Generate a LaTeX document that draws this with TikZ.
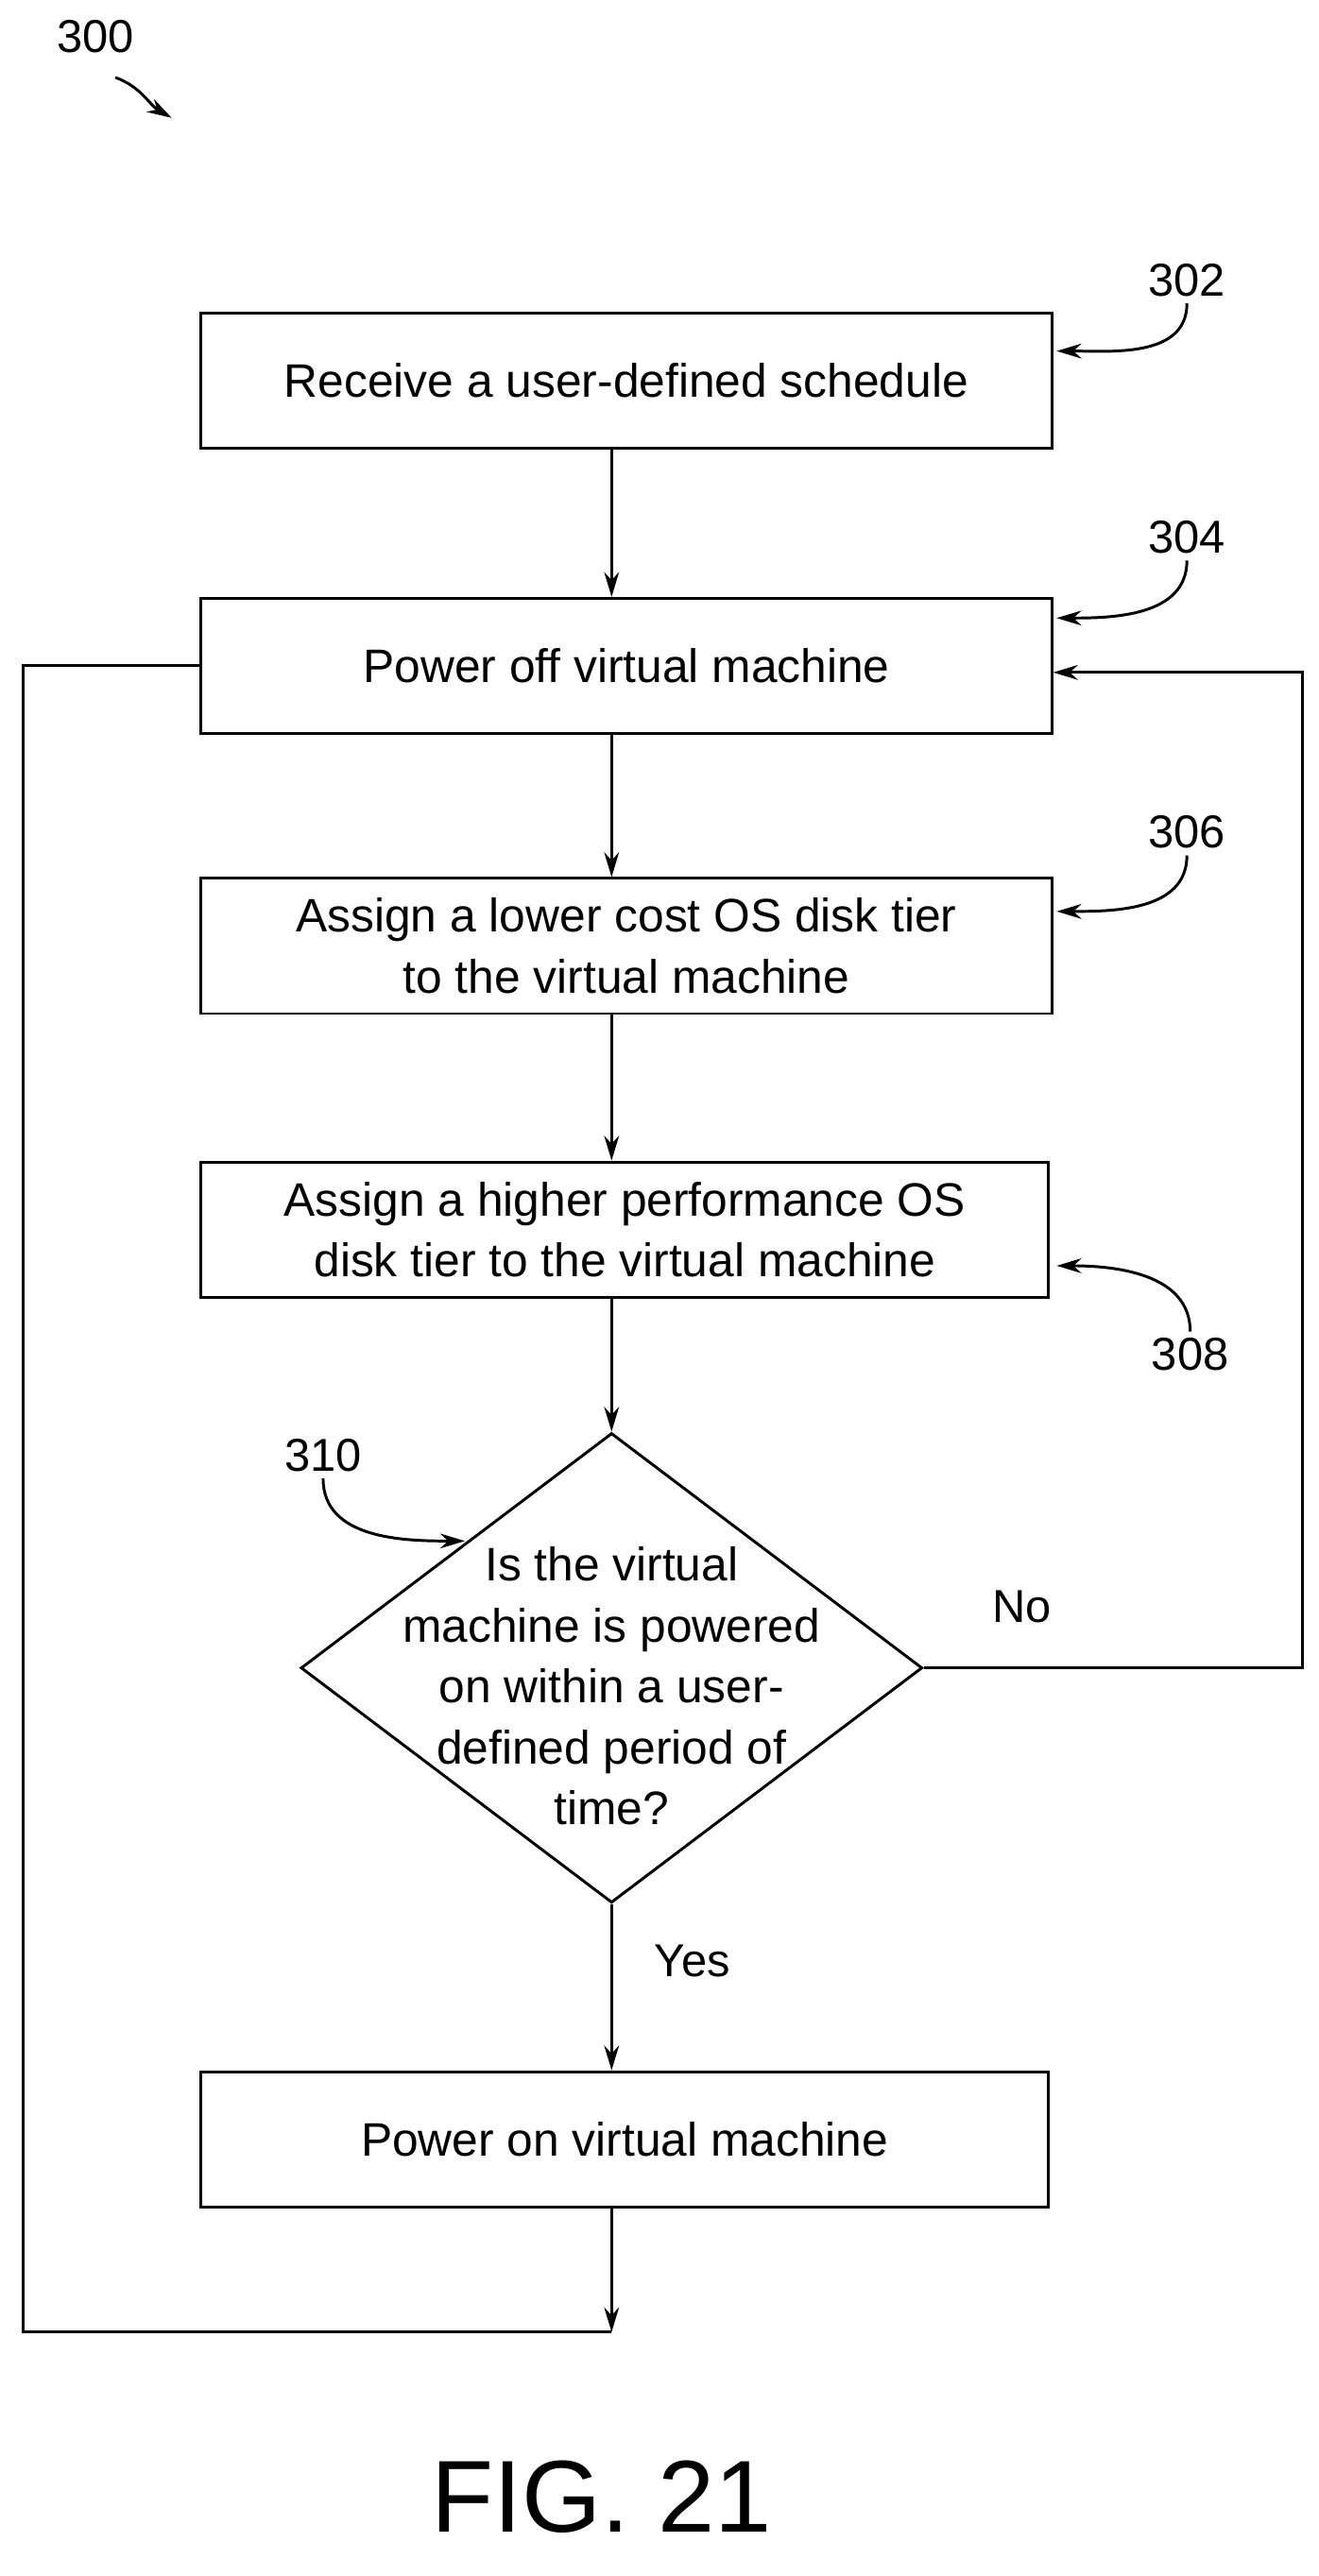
\documentclass[tikz,border=0pt]{standalone}
\usepackage{fontspec}
\setmainfont{Liberation Sans}
\usetikzlibrary{shapes.geometric,positioning,arrows.meta}
\begin{document}
\begin{tikzpicture}[x=1pt,y=-1pt,>={Stealth[length=15pt,width=9pt]},line width=1.7pt,
            step node/.style={rectangle,draw,minimum width=516pt,minimum height=82pt,
            font=\fontsize{28.5}{37}\selectfont,align=center},
            ref/.style={font=\fontsize{28}{32}\selectfont},
            tag/.style={->,shorten >=1pt}]
    \useasboundingbox (0,0) rectangle (800,1563);
    % steps
    \node[step node] (Receive) at (380,231) {Receive a user-defined schedule};
    \node[step node] (PowerOff) at (380,404) {Power off virtual machine};
    \node[step node] (LowerCost) at (380,574) {Assign a lower cost OS disk tier\\to the virtual machine};
    \node[step node,minimum width=514pt] (HigherPerf) at (379,746) {Assign a higher performance OS\\disk tier to the virtual machine};
    \node[diamond,draw,minimum width=377pt,minimum height=285pt,inner sep=0pt] (Check) at (371,1012) {};
    \node[font=\fontsize{28.5}{37}\selectfont,align=center] (CheckText) at (371,1023)
        {Is the virtual\\machine is powered\\on within a user-\\defined period of\\time?};
    \node[step node,minimum width=514pt] (PowerOn) at (379,1298) {Power on virtual machine};
    \coordinate (LoopEnd) at (371,1415);
    % flow
    \draw[->] (Receive.south -| Check) -- (PowerOff.north -| Check);
    \draw[->] (PowerOff.south -| Check) -- (LowerCost.north -| Check);
    \draw[->] (LowerCost.south -| Check) -- (HigherPerf.north -| Check);
    \draw[->] (HigherPerf.south -| Check) -- (Check.north);
    \draw[->] (Check.south) -- (PowerOn.north -| Check);
    \draw[->] (PowerOn.south -| Check) -- (LoopEnd);
    \draw (PowerOff.west) -- (14,404) -- (14,1415) -- (LoopEnd);
    \draw[->] (Check.east) -- (790,1012) -- (790,408) -- (PowerOff.east |- 0,408);
    \node[ref] (No) at (620,975) {No};
    \node[ref] (Yes) at (420,1190) {Yes};
    % reference numerals
    \node[ref] (R300) at (58,22) {300};
    \draw[tag] (70,47) to[out=-20,in=150] (105,72);
    \node[ref] (R302) at (720,170) {302};
    \draw[tag] (R302.south) to[out=-90,in=0] (640,213);
    \node[ref] (R304) at (720,326) {304};
    \draw[tag] (R304.south) to[out=-90,in=0] (640,375);
    \node[ref] (R306) at (720,505) {306};
    \draw[tag] (R306.south) to[out=-90,in=0] (640,553);
    \node[ref] (R308) at (722,822) {308};
    \draw[tag] (R308.north) to[out=90,in=0] (640,768);
    \node[ref] (R310) at (196,883) {310};
    \draw[tag] (R310.south) to[out=-90,in=180] (283,935);
    \node[font=\fontsize{62}{70}\selectfont] (Fig) at (365,1515) {FIG. 21};
\end{tikzpicture}
\end{document}
